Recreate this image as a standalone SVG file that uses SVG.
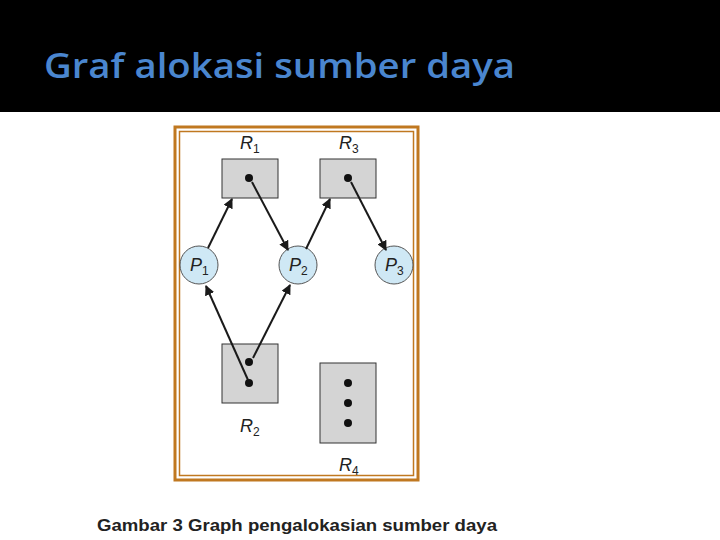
<svg xmlns="http://www.w3.org/2000/svg" width="720" height="540" viewBox="0 0 720 540">
<defs>
<style>
.res{fill:#d4d4d4;stroke:#333;stroke-width:1}
.proc{fill:#cfe8f5;stroke:#555;stroke-width:1}
.dot{fill:#111}
.lbl{font-family:"Liberation Sans",Arial,sans-serif;font-style:italic;font-size:18px;fill:#222}
.sub{font-size:12px;font-style:normal}
.edge{stroke:#1a1a1a;stroke-width:2;fill:none;marker-end:url(#ah)}
</style>
<marker id="ah" viewBox="0 0 10 10" refX="9" refY="5" markerWidth="5" markerHeight="5" orient="auto"><path d="M0,0 L10,5 L0,10 z" fill="#1a1a1a"/></marker>
</defs>
<rect width="720" height="540" fill="#fff"/>
<rect width="720" height="112" fill="#000"/>
<text x="44" y="78" font-family="Open Sans,Liberation Sans,sans-serif" font-weight="600" font-size="35" fill="#4a86cf" textLength="471" lengthAdjust="spacingAndGlyphs">Graf alokasi sumber daya</text>
<rect x="175" y="127" width="243" height="353" fill="#fff" stroke="#c07820" stroke-width="3"/>
<rect x="179.5" y="131.5" width="234" height="344" fill="none" stroke="#c07820" stroke-width="1.5"/>
<g id="R1"><rect class="res" x="222" y="159" width="56" height="39"/><circle class="dot" cx="249" cy="178" r="4"/><text class="lbl" x="240" y="149">R<tspan class="sub" dy="4">1</tspan></text></g>
<g id="R3"><rect class="res" x="320" y="159" width="56" height="39"/><circle class="dot" cx="348" cy="178" r="4"/><text class="lbl" x="339" y="149">R<tspan class="sub" dy="4">3</tspan></text></g>
<g id="R2"><rect class="res" x="222" y="344" width="56" height="59"/><circle class="dot" cx="249" cy="362" r="4"/><circle class="dot" cx="249" cy="383" r="4"/><text class="lbl" x="240" y="432">R<tspan class="sub" dy="4">2</tspan></text></g>
<g id="R4"><rect class="res" x="320" y="363" width="56" height="80"/><circle class="dot" cx="348" cy="383" r="4"/><circle class="dot" cx="348" cy="403" r="4"/><circle class="dot" cx="348" cy="423" r="4"/><text class="lbl" x="339" y="471">R<tspan class="sub" dy="4">4</tspan></text></g>
<g id="P1"><circle class="proc" cx="199" cy="265" r="19"/><text class="lbl" x="190" y="271">P<tspan class="sub" dy="4">1</tspan></text></g>
<g id="P2"><circle class="proc" cx="298" cy="265" r="19"/><text class="lbl" x="289" y="271">P<tspan class="sub" dy="4">2</tspan></text></g>
<g id="P3"><circle class="proc" cx="394" cy="265" r="19"/><text class="lbl" x="385" y="271">P<tspan class="sub" dy="4">3</tspan></text></g>
<g id="edges">
<line class="edge" x1="208" y1="248" x2="232" y2="199"/>
<line class="edge" x1="252" y1="182" x2="288" y2="250"/>
<line class="edge" x1="306" y1="249" x2="330" y2="199"/>
<line class="edge" x1="351" y1="182" x2="386" y2="250"/>
<line class="edge" x1="248" y1="380" x2="206" y2="286"/>
<line class="edge" x1="253" y1="358" x2="290" y2="285"/>
</g>
<text x="97" y="531" font-family="Liberation Sans,Arial,sans-serif" font-weight="bold" font-size="17" fill="#222" textLength="400" lengthAdjust="spacingAndGlyphs">Gambar 3 Graph pengalokasian sumber daya</text>
</svg>
